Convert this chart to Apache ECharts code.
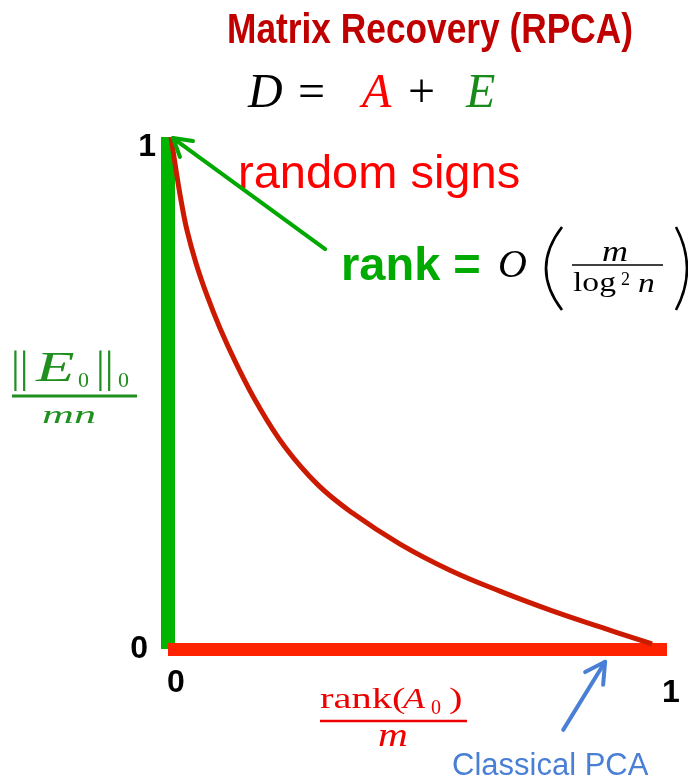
<!DOCTYPE html>
<html>
<head>
<meta charset="utf-8">
<script src="https://cdn.jsdelivr.net/npm/echarts@6/dist/echarts.min.js"></script>
<style>
  html, body { margin: 0; background: #fff; }
  #chart { width: 688px; height: 783px; }
</style>
</head>
<body>
<div id="chart"></div>
<script>
// tick labels of the two normalised axes
const xTicks = [0, 1];
const yTicks = [0, 1];

// red boundary curve (rank fraction -> error fraction)
const curveX = [0.006, 0.016, 0.026, 0.038, 0.056, 0.078, 0.104, 0.136, 0.180, 0.234, 0.301, 0.369, 0.465, 0.565, 0.665, 0.766, 0.866, 0.970];
const curveY = [1.000, 0.936, 0.877, 0.818, 0.754, 0.691, 0.627, 0.559, 0.477, 0.395, 0.320, 0.266, 0.205, 0.154, 0.113, 0.076, 0.043, 0.010];

// annotation arrows, in data units
const greenArrow = [[0.315, 0.781], [0.010, 0.998]];
const greenHead = [[0.050, 0.992], [0.010, 0.998], [0.024, 0.961]];
const blueArrow = [[0.792, -0.158], [0.876, -0.025]];
const blueHead = [[0.836, -0.045], [0.876, -0.025], [0.872, -0.070]];

const SANS = "'Liberation Sans', Arial, sans-serif";
const SERIF = "'Liberation Serif', 'Times New Roman', serif";

const chart = echarts.init(document.getElementById("chart"));

const txt = (text, x, y, font, fill, extra = {}) => ({
    type: "text",
    x, y,
    scaleX: extra.scaleX ?? 1,
    style: {
        text, font, fill,
        align: extra.align ?? "left",
        verticalAlign: "middle",
    },
});
const bar = (x1, y1, x2, y2, stroke, lineWidth) => ({
    type: "line",
    shape: { x1, y1, x2, y2 },
    style: { stroke, lineWidth },
});
const paren = (x1, y1, x2, y2, cpx) => ({
    type: "bezierCurve",
    shape: { x1, y1, x2, y2, cpx1: cpx, cpy1: (y1 + y2) / 2 },
    style: { stroke: "#000", lineWidth: 2.6, fill: null },
});

const arrowSeries = (data, color) => ({
    type: "line",
    data,
    symbol: "none",
    clip: false,
    silent: true,
    z: 5,
    lineStyle: { color, width: 4, cap: "round", join: "round" },
});

const tick = { fontSize: 32, fontWeight: "bold", fontFamily: SANS, color: "#000" };

chart.setOption({
    animation: false,
    backgroundColor: "#fff",
    grid: { left: 168, right: 21, top: 137, bottom: 134 },
    xAxis: {
        type: "value",
        min: 0,
        max: 1,
        interval: 1,
        axisLine: { show: true, onZero: false, lineStyle: { color: "#ff2200", width: 13, cap: "butt" } },
        axisTick: { show: false },
        splitLine: { show: false },
        axisLabel: {
            margin: 18,
            ...tick,
            formatter: (v) => (v === xTicks[0] ? "{a|" + v + "}" : "{b|" + v + "}"),
            rich: {
                a: { ...tick, padding: [0, 0, 0, 16] },
                b: { ...tick, padding: [10, 0, 0, 8] },
            },
        },
        z: 3,
    },
    yAxis: {
        type: "value",
        min: 0,
        max: 1,
        interval: 1,
        axisLine: { show: true, onZero: false, lineStyle: { color: "#00b400", width: 14, cap: "butt" } },
        axisTick: { show: false },
        splitLine: { show: false },
        axisLabel: {
            margin: 12,
            ...tick,
            formatter: (v) => (v === yTicks[1] ? "{a|" + v + "}" : "{b|" + v + "}"),
            rich: {
                a: { ...tick, padding: [20, 0, 0, 0] },
                b: { ...tick, padding: [0, 8, 0, 0] },
            },
        },
        z: 2,
    },
    series: [
        {
            type: "line",
            data: curveX.map((x, i) => [x, curveY[i]]),
            smooth: 0.4,
            symbol: "none",
            clip: false,
            z: 4,
            lineStyle: { color: "#cc1a00", width: 5 },
        },
        arrowSeries(greenArrow, "#00a800"),
        arrowSeries(greenHead, "#00a800"),
        arrowSeries(blueArrow, "#4a7fd6"),
        arrowSeries(blueHead, "#4a7fd6"),
    ],
    graphic: [
        // title
        txt("Matrix Recovery (RPCA)", 430, 31, "bold 42px " + SANS, "#c00000", { align: "center", scaleX: 0.84 }),
        // D = A + E
        txt("D", 248, 94, "italic 48px " + SERIF, "#000"),
        txt("=", 298, 94, "48px " + SERIF, "#000"),
        txt("A", 362, 94, "italic 48px " + SERIF, "#ff0000"),
        txt("+", 408, 94, "48px " + SERIF, "#000"),
        txt("E", 466, 94, "italic 48px " + SERIF, "#1a8a1a"),
        // random signs
        txt("random signs", 238, 175, "47px " + SANS, "#ff0000"),
        // rank = O(m / log^2 n)
        txt("rank =", 341, 267, "bold 47px " + SANS, "#00aa00"),
        txt("O", 498, 266, "italic 40px " + SERIF, "#000"),
        paren(562, 227, 562, 310, 530),
        txt("m", 602, 253, "italic 30px " + SERIF, "#000", { scaleX: 1.2 }),
        bar(572, 265, 663, 265, "#000", 1.5),
        txt("log", 573, 284, "28px " + SERIF, "#000", { scaleX: 1.2 }),
        txt("2", 621, 280, "18px " + SERIF, "#000"),
        txt("n", 638, 285, "italic 28px " + SERIF, "#000", { scaleX: 1.2 }),
        paren(676, 227, 676, 310, 698),
        // y label ||E0||0 / mn
        txt("||", 11, 370, "44px " + SERIF, "#1f8f1f"),
        txt("E", 36, 370, "italic 42px " + SERIF, "#1f8f1f", { scaleX: 1.5 }),
        txt("0", 78, 381, "22px " + SERIF, "#1f8f1f"),
        txt("||", 96, 370, "44px " + SERIF, "#1f8f1f"),
        txt("0", 118, 381, "22px " + SERIF, "#1f8f1f"),
        bar(12, 396, 137, 396, "#1f8f1f", 3),
        txt("mn", 42, 416, "italic 26px " + SERIF, "#1f8f1f", { scaleX: 1.7 }),
        // x label rank(A0) / m
        txt("rank(", 320, 700, "30px " + SERIF, "#ee0000", { scaleX: 1.35 }),
        txt("A", 403, 700, "italic 30px " + SERIF, "#ee0000", { scaleX: 1.2 }),
        txt("0", 431, 709, "20px " + SERIF, "#ee0000"),
        txt(")", 449, 700, "30px " + SERIF, "#ee0000", { scaleX: 1.35 }),
        bar(320, 721, 467, 721, "#ee0000", 2.5),
        txt("m", 378, 737, "italic 33px " + SERIF, "#ee0000", { scaleX: 1.25 }),
        // classical PCA
        txt("Classical PCA", 452, 766, "31px " + SANS, "#4a7fd6"),
    ],
});
</script>
</body>
</html>
